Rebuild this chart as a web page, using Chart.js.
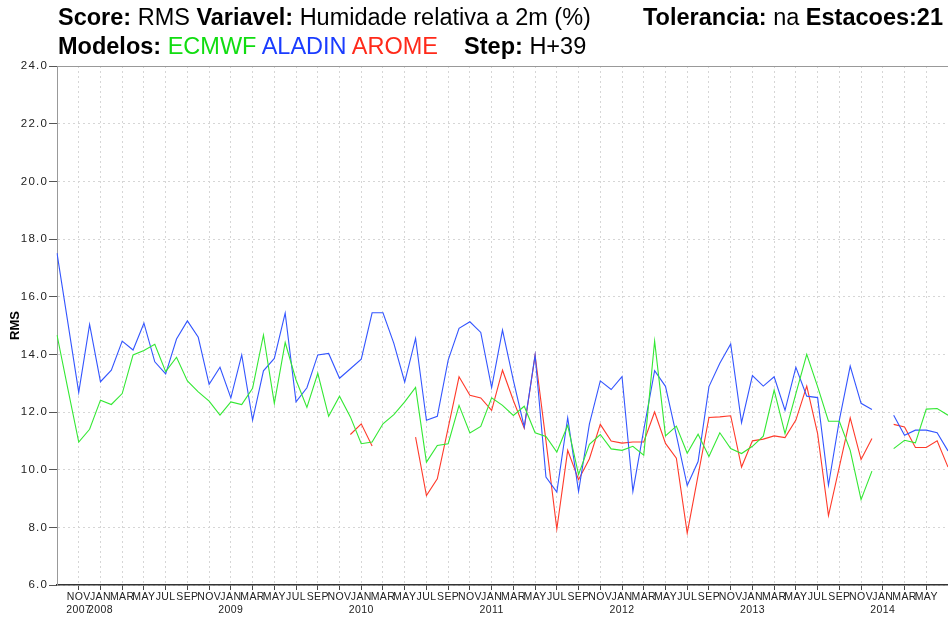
<!DOCTYPE html>
<html><head><meta charset="utf-8">
<script src="https://cdn.jsdelivr.net/npm/chart.js@4.4.0/dist/chart.umd.min.js"></script>
<style>
html,body{margin:0;padding:0;background:#fff;}
#wrap{position:relative;width:948px;height:618px;overflow:hidden;background:#fff;}
canvas{position:absolute;left:0;top:0;}
.t{position:absolute;left:58px;font-family:'Liberation Sans',Arial,Helvetica,sans-serif;font-size:23.5px;line-height:1;white-space:nowrap;color:#000;}
.t b{font-weight:bold;}
</style></head><body>
<div id="wrap">
<canvas id="c" width="948" height="618"></canvas>
<div class="t" style="top:6px"><b>Score:</b> RMS <b>Variavel:</b> Humidade relativa a 2m (%)</div>
<div class="t" style="top:6px;left:643px"><b>Tolerancia:</b> na <b>Estacoes:21</b></div>
<div class="t" style="top:35px"><b>Modelos:</b> <span style="color:#11dd11">ECMWF</span> <span style="color:#1a3cff">ALADIN</span> <span style="color:#ff2a1a">AROME</span>&nbsp;&nbsp;&nbsp; <b>Step:</b> H+39</div>
</div>
<script>
const categories = [
 'SEP 2007','OCT 2007','NOV 2007','DEC 2007',
 'JAN 2008','FEB 2008','MAR 2008','APR 2008','MAY 2008','JUN 2008','JUL 2008','AUG 2008','SEP 2008','OCT 2008','NOV 2008','DEC 2008',
 'JAN 2009','FEB 2009','MAR 2009','APR 2009','MAY 2009','JUN 2009','JUL 2009','AUG 2009','SEP 2009','OCT 2009','NOV 2009','DEC 2009',
 'JAN 2010','FEB 2010','MAR 2010','APR 2010','MAY 2010','JUN 2010','JUL 2010','AUG 2010','SEP 2010','OCT 2010','NOV 2010','DEC 2010',
 'JAN 2011','FEB 2011','MAR 2011','APR 2011','MAY 2011','JUN 2011','JUL 2011','AUG 2011','SEP 2011','OCT 2011','NOV 2011','DEC 2011',
 'JAN 2012','FEB 2012','MAR 2012','APR 2012','MAY 2012','JUN 2012','JUL 2012','AUG 2012','SEP 2012','OCT 2012','NOV 2012','DEC 2012',
 'JAN 2013','FEB 2013','MAR 2013','APR 2013','MAY 2013','JUN 2013','JUL 2013','AUG 2013','SEP 2013','OCT 2013','NOV 2013','DEC 2013',
 'JAN 2014','FEB 2014','MAR 2014','APR 2014','MAY 2014','JUN 2014','JUL 2014'
];

const ecmwf = [
 14.67,12.8,10.96,11.40,12.41,12.26,12.64,13.98,14.13,14.35,
 13.40,13.90,13.08,12.70,12.38,11.89,12.35,12.26,12.82,14.67,
 12.30,14.41,13.11,12.16,13.34,11.85,12.55,11.83,10.90,10.96,
 11.59,11.91,12.35,12.85,10.26,10.84,10.90,12.23,11.27,11.50,
 12.49,12.23,11.88,12.20,11.28,11.15,10.61,11.54,9.83,10.88,
 11.22,10.72,10.67,10.81,10.50,14.46,11.17,11.51,10.57,11.23,
 10.46,11.28,10.73,10.56,10.81,11.16,12.76,11.25,12.64,14.0,
 12.88,11.68,11.68,10.67,8.96,9.95,null,10.73,11.02,10.93,
 12.10,12.12,11.89
];

const aladin = [
 17.51,15.1,12.68,15.04,13.05,13.45,14.46,14.15,15.08,13.74,
 13.32,14.53,15.16,14.59,12.96,13.55,12.49,13.98,11.72,13.43,
 13.86,15.43,12.35,12.84,13.98,14.03,13.17,13.5,13.83,15.44,
 15.44,14.38,13.04,14.55,11.71,11.85,13.80,14.90,15.13,14.76,
 12.85,14.84,13.10,11.48,13.97,9.74,9.22,11.80,9.25,11.59,
 13.08,12.78,13.23,9.25,11.38,13.43,12.89,11.2,9.45,10.28,
 12.88,13.69,14.36,11.63,13.26,12.90,13.22,12.06,13.55,12.55,
 12.50,9.46,11.72,13.59,12.30,12.09,null,11.89,11.19,11.37,
 11.37,11.28,10.65
];

const arome = [
 null,null,null,null,null,null,null,null,null,null,
 null,null,null,null,null,null,null,null,null,null,
 null,null,null,null,null,null,null,11.22,11.59,10.82,
 null,null,null,11.13,9.10,9.68,11.45,13.22,12.58,12.49,
 12.06,13.45,12.4,11.44,13.97,11.0,7.94,10.67,9.65,10.38,
 11.57,10.99,10.92,10.96,10.96,12.0,10.91,10.40,7.80,9.80,
 11.81,11.83,11.87,10.09,11.0,11.06,11.17,11.11,11.72,12.90,
 11.25,8.41,10.1,11.80,10.35,11.08,null,11.57,11.48,10.77,
 10.77,11.0,10.09
];

const yTicks = [6, 8, 10, 12, 14, 16, 18, 20, 22, 24];

const FONT = "'Liberation Sans', Arial, Helvetica, sans-serif";

function patchSpacing(s, sp) {
  if (s._lsPatched) return;
  const orig = s.drawLabels;
  s.drawLabels = function (a) {
    const c = this.ctx; c.save(); c.letterSpacing = sp; orig.call(this, a); c.restore();
  };
  s._lsPatched = true;
}

const lsPlugin = {
  id: 'ls',
  beforeDraw(chart) {
    patchSpacing(chart.scales.y, '1.2px');
    patchSpacing(chart.scales.x, '0.4px');
  }
};

new Chart(document.getElementById('c'), {
  type: 'line',
  data: {
    labels: categories,
    datasets: [
      { label: 'ECMWF', data: ecmwf, borderColor: '#33e833', borderWidth: 1.1, pointRadius: 0, tension: 0, spanGaps: false },
      { label: 'ALADIN', data: aladin, borderColor: '#3355ff', borderWidth: 1.1, pointRadius: 0, tension: 0, spanGaps: false },
      { label: 'AROME', data: arome, borderColor: '#ff3a2a', borderWidth: 1.1, pointRadius: 0, tension: 0, spanGaps: false }
    ]
  },
  options: {
    responsive: false,
    devicePixelRatio: 1,
    animation: false,
    layout: { padding: { top: 66, left: 0, right: 0, bottom: 0 } },
    plugins: { legend: { display: false }, tooltip: { enabled: false }, title: { display: false } },
    scales: {
      x: {
        type: 'category',
        offset: false,
        afterFit: s => { s.height = 33; },
        grid: {
          drawOnChartArea: true,
          color: c => (c.index > 0 && c.index % 2 === 0) ? '#d6d6d6' : 'rgba(0,0,0,0)',
          tickColor: c => (c.index > 0 && c.index % 2 === 0) ? '#444' : 'rgba(0,0,0,0)',
          tickLength: 5,
          tickBorderDash: [],
          lineWidth: 1
        },
        border: { display: true, color: '#333', width: 1.5, dash: [2, 3] },
        ticks: {
          autoSkip: false,
          maxRotation: 0,
          minRotation: 0,
          padding: 0,
          color: '#222',
          font: { family: FONT, size: 10.5, lineHeight: 1.3 },
          callback: function (val, idx) {
            if (idx < 2 || idx % 2 || idx > 80) return '';
            const parts = categories[idx].split(' ');
            if (parts[0] === 'JAN' || idx === 2) return [parts[0], parts[1]];
            return parts[0];
          }
        }
      },
      y: {
        min: 6, max: 24,
        afterFit: s => { s.width = 57; },
        afterBuildTicks: s => { s.ticks = yTicks.map(v => ({ value: v })); },
        grid: {
          color: c => (c.tick && c.tick.value === 24) ? '#999' : '#d6d6d6',
          tickColor: '#555',
          tickLength: 8,
          tickBorderDash: [],
          lineWidth: 1
        },
        border: { display: true, color: '#999', width: 1, dash: c => (c.tick && c.tick.value === 24) ? [] : [2, 3] },
        ticks: {
          padding: 1,
          color: '#222',
          font: { family: FONT, size: 11.5 },
          callback: v => Number(v).toFixed(1)
        },
        title: {
          display: true,
          text: 'RMS',
          color: '#000',
          font: { family: FONT, size: 13, weight: 'bold' },
          padding: { top: 8, bottom: 0 }
        }
      }
    }
  },
  plugins: [lsPlugin]
});
</script>
</body></html>
